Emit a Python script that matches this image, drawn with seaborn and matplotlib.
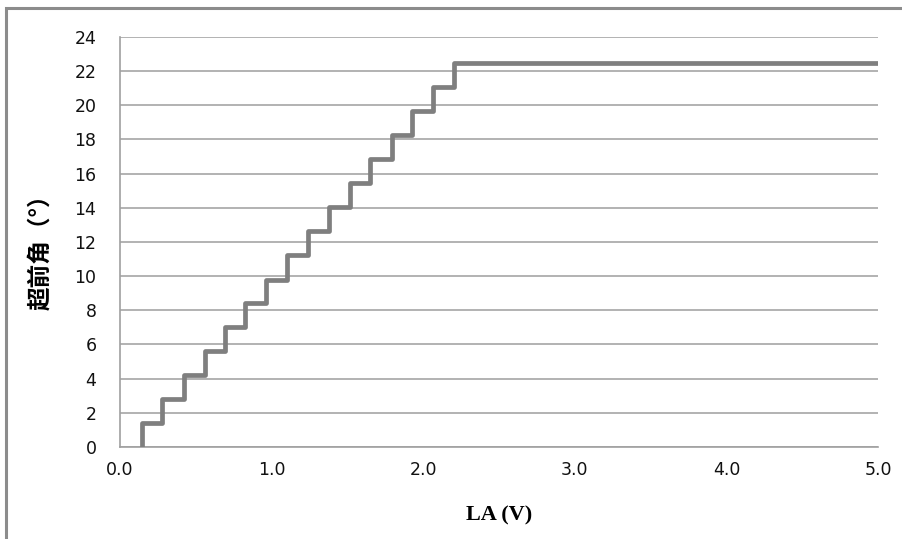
import numpy as np
import pandas as pd
import matplotlib
matplotlib.use("Agg")
import matplotlib.pyplot as plt
from matplotlib.patches import Rectangle
import seaborn as sns

# step corners (voltage where each step rises) and the level reached
la_volts = [0.144, 0.28, 0.42, 0.56, 0.69, 0.826, 0.963, 1.103, 1.24, 1.38,
            1.517, 1.65, 1.792, 1.924, 2.063, 2.203, 5.0]
advance_deg = [0, 1.4, 2.8, 4.2, 5.6, 7.0, 8.4, 9.8, 11.25, 12.65,
               14.05, 15.45, 16.85, 18.25, 19.65, 21.05, 22.5]
x_ticks = [0, 1, 2, 3, 4, 5]
x_tick_labels = ["0.0", "1.0", "2.0", "3.0", "4.0", "5.0"]
y_ticks = list(range(0, 25, 2))

sns.set_style("white")
plt.rcParams['font.family'] = ['DejaVu Sans']

df = pd.DataFrame({"LA": la_volts, "angle": advance_deg})

fig = plt.figure(figsize=(9.03, 5.39), dpi=100)
ax = fig.add_axes([0.1329, 0.1707, 0.8394, 0.7607])

sns.lineplot(data=df, x="LA", y="angle", ax=ax, color="#7f7f7f",
             linewidth=3.4, drawstyle="steps-pre", zorder=3)

ax.set_xlim(0, 5)
ax.set_ylim(0, 24)
ax.set_xticks(x_ticks)
ax.set_xticklabels(x_tick_labels)
ax.set_yticks(y_ticks)

ax.yaxis.grid(True, color="#a6a6a6", linewidth=1.2)
ax.xaxis.grid(False)
for side in ["top", "right"]:
    ax.spines[side].set_visible(False)
for side in ["left", "bottom"]:
    ax.spines[side].set_color("#a0a0a0")
    ax.spines[side].set_linewidth(1.2)

ax.tick_params(axis="both", direction="out", length=5, width=1.2,
               color="#a0a0a0", labelsize=12.5, labelcolor="#111111")
ax.tick_params(axis="x", pad=5)
ax.tick_params(axis="y", pad=12)

ax.set_xlabel("LA (V)", fontsize=16, fontweight="bold", color="black",
              family=["Liberation Serif", "DejaVu Serif"])
ax.xaxis.set_label_coords(0.5, -0.142)
ax.set_ylabel("超前角（°）", fontsize=17, fontweight="bold", color="black",
              family=["Noto Sans CJK SC", "DejaVu Sans"])
ax.yaxis.set_label_coords(-0.09, 0.49)

# outer frame of the original chart object
fig.patches.append(Rectangle((6 / 903, -0.02), 1.02, 1 - 8 / 539 + 0.02,
                             transform=fig.transFigure, fill=False,
                             edgecolor="#8c8c8c", linewidth=2.2))

fig.savefig("out.png", dpi=100)
